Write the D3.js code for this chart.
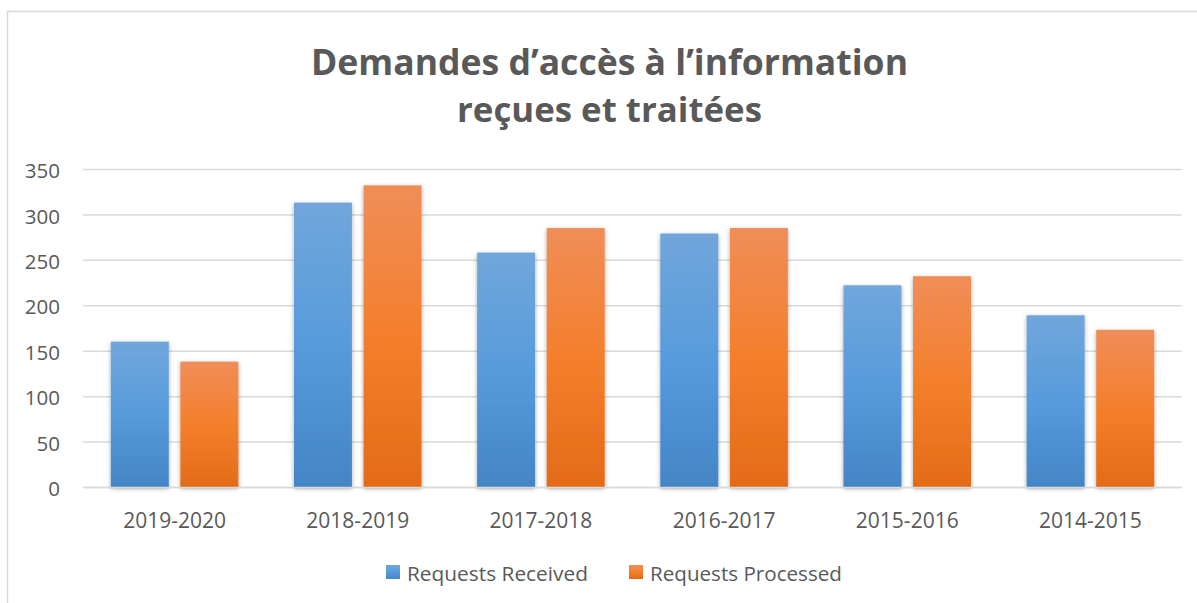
<!DOCTYPE html>
<html><head><meta charset="utf-8">
<script src="https://cdn.jsdelivr.net/npm/d3@7/dist/d3.min.js"></script>
<style>html,body{margin:0;padding:0;background:#fff;}svg{display:block;}</style>
</head><body>
<script>
const categories = ["2019-2020","2018-2019","2017-2018","2016-2017","2015-2016","2014-2015"];
const seriesNames = ["Requests Received","Requests Processed"];
const received = [160, 313, 258, 279, 222, 189];
const processed = [138, 332, 285, 285, 232, 173];
const yTicks = [0, 50, 100, 150, 200, 250, 300, 350];
const titleLines = ["Demandes d\u2019acc\u00e8s \u00e0 l\u2019information", "re\u00e7ues et trait\u00e9es"];

const W = 1197, H = 603;
const FONT = "'Open Sans', 'Noto Sans', sans-serif";
const svg = d3.select("body").append("svg").attr("width", W).attr("height", H);
const defs = svg.append("defs");

function grad(id, stops) {
  const g = defs.append("linearGradient").attr("id", id).attr("x1",0).attr("y1",0).attr("x2",0).attr("y2",1);
  stops.forEach(s => g.append("stop").attr("offset", s[0]).attr("stop-color", s[1]));
}
grad("gBlue", [[0,"#71a6db"],[0.5,"#579bdc"],[1,"#4485c6"]]);
grad("gOrange", [[0,"#f08d58"],[0.5,"#f47f2c"],[1,"#e36b18"]]);
const f = defs.append("filter").attr("id","shadow").attr("x","-20%").attr("y","-10%").attr("width","140%").attr("height","120%");
f.append("feDropShadow").attr("dx",0).attr("dy",1.5).attr("stdDeviation",2.2).attr("flood-color","#000").attr("flood-opacity",0.35);

// chart border
svg.append("rect").attr("x",7.5).attr("y",11.5).attr("width",W+20).attr("height",H+20)
  .attr("fill","#fff").attr("stroke","#d9d9d9").attr("stroke-width",1.5);

function fit(sel, target) {
  const node = sel.node();
  const fs = parseFloat(sel.attr("font-size"));
  const len = node.getComputedTextLength();
  if (len > 0) sel.attr("font-size", (fs * target / len).toFixed(2));
  return sel;
}

// title
const t1 = svg.append("text").attr("x", 609.5).attr("y", 75).attr("text-anchor","middle")
  .attr("font-family", FONT).attr("font-weight","bold").attr("font-size",40).attr("fill","#595959").text(titleLines[0]);
fit(t1, 597);
const t2 = svg.append("text").attr("x", 609.5).attr("y", 122).attr("text-anchor","middle")
  .attr("font-family", FONT).attr("font-weight","bold").attr("font-size",40).attr("fill","#595959").text(titleLines[1]);
fit(t2, 305);

const x0 = d3.scaleBand().domain(categories).range([83, 1182]).padding(0);
const band = x0.bandwidth();
const barW = band * 0.3166, gap = barW * 0.2, groupW = 2*barW + gap;
const x1 = d3.scaleBand().domain(seriesNames).range([0, groupW]).paddingInner(gap/(barW+gap)).paddingOuter(0);
const y = d3.scaleLinear().domain([0, 350]).range([487, 169]);

// gridlines via axis
const yAxis = svg.append("g").attr("transform","translate(83,0)")
  .call(d3.axisLeft(y).tickValues(yTicks).tickSize(-(1182-83)).tickPadding(23));
yAxis.select(".domain").remove();
yAxis.selectAll(".tick line").attr("stroke","#d9d9d9").attr("stroke-width",1.5);
yAxis.selectAll(".tick text").attr("font-family",FONT).attr("font-size",20.5).attr("fill","#595959").attr("dy","0.42em");

const colors = {"Requests Received":"url(#gBlue)","Requests Processed":"url(#gOrange)"};
const data = categories.map((c,i) => ({cat:c, vals:[{s:seriesNames[0], v:received[i]},{s:seriesNames[1], v:processed[i]}]}));

const groups = svg.append("g").selectAll("g").data(data).join("g")
  .attr("transform", d => `translate(${x0(d.cat) + (band - groupW)/2},0)`);
groups.selectAll("rect").data(d => d.vals).join("rect")
  .attr("x", d => x1(d.s)).attr("width", x1.bandwidth())
  .attr("y", d => y(d.v)).attr("height", d => y(0) - y(d.v))
  .attr("fill", d => colors[d.s]).attr("filter","url(#shadow)");

// x axis
const xAxis = svg.append("g").attr("transform", `translate(0,${y(0)})`)
  .call(d3.axisBottom(x0).tickSize(0).tickPadding(26));
xAxis.select(".domain").attr("stroke","#d9d9d9").attr("stroke-width",1.5);
xAxis.selectAll(".tick text").attr("font-family",FONT).attr("font-size",21).attr("fill","#595959");

// legend
const legend = svg.append("g");
const legItems = [{s:seriesNames[0], x:386, tx:407, w:181},{s:seriesNames[1], x:629, tx:650, w:192}];
legItems.forEach(it => {
  legend.append("rect").attr("x", it.x).attr("y", 565).attr("width",14).attr("height",14).attr("fill", colors[it.s]);
  const t = legend.append("text").attr("x", it.tx).attr("y", 581).attr("font-family",FONT).attr("font-size",19).attr("fill","#595959").text(it.s);
  fit(t, it.w);
});
</script>
</body></html>
